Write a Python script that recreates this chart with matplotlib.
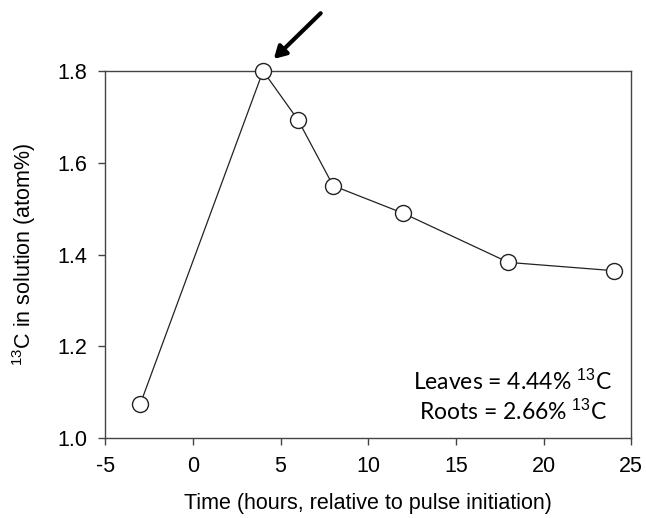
import numpy as np
import matplotlib.pyplot as plt

plt.rcParams['font.family'] = ['Liberation Sans', 'DejaVu Sans']
plt.rcParams['mathtext.fontset'] = 'custom'
plt.rcParams['mathtext.rm'] = 'Liberation Sans'

# data
time_h = [-3, 4, 6, 8, 12, 18, 24]
c13_atom = [1.075, 1.80, 1.693, 1.55, 1.49, 1.383, 1.365]
x_ticks = [-5, 0, 5, 10, 15, 20, 25]
y_ticks = [1.0, 1.2, 1.4, 1.6, 1.8]
notes = ["Leaves = 4.44% $^{13}$C", "Roots = 2.66% $^{13}$C"]

fig = plt.figure(figsize=(6.46, 5.18), dpi=100)
ax = fig.add_axes([0.163, 0.154, 0.814, 0.709])

ax.plot(time_h, c13_atom, color='#222222', lw=0.9, marker='o', ms=11.5,
        mfc='white', mec='#222222', mew=1.0, clip_on=False, zorder=3)

ax.set_xlim(-5, 25)
ax.set_ylim(1.0, 1.8)
ax.set_xticks(x_ticks)
ax.set_xticklabels([str(t) for t in x_ticks])
ax.set_yticks(y_ticks)
ax.set_yticklabels([f"{v:.1f}" for v in y_ticks])
ax.tick_params(direction='out', length=5, width=1, color='#444444',
               labelsize=15.5)
ax.tick_params(axis='x', pad=8)
ax.tick_params(axis='y', pad=8)
for s in ax.spines.values():
    s.set_color('#444444')
    s.set_linewidth(1)

ax.set_xlabel("Time (hours, relative to pulse initiation)", fontsize=15.5, labelpad=11)
ax.set_ylabel("$^{13}$C in solution (atom%)", fontsize=15.5, labelpad=14)

# annotation text
for i, t in enumerate(notes):
    ax.text(0.775, 0.155 - i * 0.083, t, transform=ax.transAxes, ha='center',
            va='center', fontsize=16.5, family=['Lato', 'DejaVu Sans'])

# arrow pointing at the peak
ax.annotate("", xy=(4.5, 1.822), xytext=(7.4, 1.93),
            arrowprops=dict(arrowstyle='-|>,head_length=0.7,head_width=0.4',
                            color='black', lw=3),
            annotation_clip=False)

fig.savefig("out.png", dpi=100)
